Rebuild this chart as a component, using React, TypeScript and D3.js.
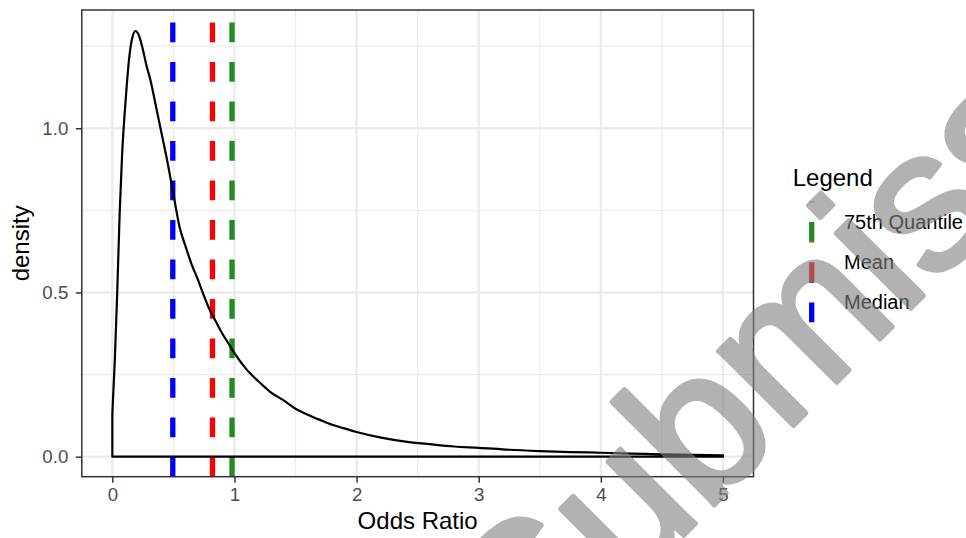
import React, { useEffect, useRef } from "react";
import * as d3 from "d3";

// density curve
const oddsRatio = [
  0, 0.02, 0.04, 0.06, 0.08, 0.1, 0.12, 0.14, 0.16, 0.19, 0.22, 0.25, 0.28,
  0.31, 0.35, 0.4, 0.45, 0.5, 0.55, 0.6, 0.65, 0.7, 0.75, 0.8, 0.85, 0.9,
  0.95, 1.0, 1.1, 1.2, 1.3, 1.4, 1.5, 1.6, 1.7, 1.8, 1.9, 2.0, 2.2, 2.4, 2.6,
  2.8, 3.0, 3.25, 3.5, 3.75, 4.0, 4.25, 4.5, 4.75, 5.0,
];
const density = [
  0.13, 0.29, 0.5, 0.74, 0.92, 1.04, 1.14, 1.22, 1.27, 1.296, 1.28, 1.24,
  1.19, 1.15, 1.08, 0.99, 0.9, 0.8, 0.7, 0.64, 0.585, 0.54, 0.49, 0.445, 0.41,
  0.375, 0.345, 0.315, 0.265, 0.228, 0.195, 0.172, 0.146, 0.128, 0.112, 0.097,
  0.086, 0.075, 0.058, 0.046, 0.038, 0.031, 0.027, 0.021, 0.017, 0.014, 0.012,
  0.0095, 0.007, 0.0055, 0.004,
];

const xTicks = [0, 1, 2, 3, 4, 5];
const xMinor = [0.5, 1.5, 2.5, 3.5, 4.5];
const yTicks = [0, 0.5, 1.0];
const yMinor = [0.25, 0.75, 1.25];

const statNames = ["75th Quantile", "Mean", "Median"];
const statValues = [0.98, 0.82, 0.495];
const statColors = ["#228B22", "#FF0000", "#0000FF"];

const FONT = "'Liberation Sans', Arial, Helvetica, sans-serif";

export default function App() {
  const svgRef = useRef<SVGSVGElement>(null);

  useEffect(() => {
    document.body.style.margin = "0";
    const W = 966;
    const H = 538;
    const margin = { top: 10, right: 212.5, bottom: 61.3, left: 81.8 };

    const svg = d3.select(svgRef.current);
    svg.selectAll("*").remove();
    svg.style("font-family", FONT);

    const x = d3
      .scaleLinear()
      .domain([-0.25, 5.25])
      .range([margin.left, W - margin.right]);
    const y = d3
      .scaleLinear()
      .domain([-0.061, 1.36])
      .range([H - margin.bottom, margin.top]);

    const [x0, x1] = x.range();
    const [yb, yt] = y.range();

    svg
      .append("rect")
      .attr("width", W)
      .attr("height", H)
      .attr("fill", "white");

    // grid
    const grid = svg.append("g");
    const vGrid = (vals: number[], w: number) =>
      grid
        .append("g")
        .selectAll("line")
        .data(vals)
        .enter()
        .append("line")
        .attr("x1", (d) => x(d))
        .attr("x2", (d) => x(d))
        .attr("y1", yb)
        .attr("y2", yt)
        .attr("stroke", "#EBEBEB")
        .attr("stroke-width", w);
    const hGrid = (vals: number[], w: number) =>
      grid
        .append("g")
        .selectAll("line")
        .data(vals)
        .enter()
        .append("line")
        .attr("x1", x0)
        .attr("x2", x1)
        .attr("y1", (d) => y(d))
        .attr("y2", (d) => y(d))
        .attr("stroke", "#EBEBEB")
        .attr("stroke-width", w);
    vGrid(xMinor, 1.2);
    hGrid(yMinor, 1.2);
    vGrid(xTicks, 2.4);
    hGrid(yTicks, 2.4);

    // vertical stat lines
    svg
      .append("g")
      .selectAll("line")
      .data(statValues)
      .enter()
      .append("line")
      .attr("x1", (d) => x(d))
      .attr("x2", (d) => x(d))
      .attr("y1", yb)
      .attr("y2", yt)
      .attr("stroke", (d, i) => statColors[i])
      .attr("stroke-width", 5.3)
      .attr("stroke-dasharray", "19.75 19.75");

    // density outline
    const pts: [number, number][] = oddsRatio.map((v, i) => [v, density[i]]);
    const area = d3
      .area<[number, number]>()
      .x((d) => x(d[0]))
      .y0(y(0))
      .y1((d) => y(d[1]))
      .curve(d3.curveMonotoneX);
    svg
      .append("path")
      .attr("d", area(pts))
      .attr("fill", "none")
      .attr("stroke", "black")
      .attr("stroke-width", 2.2)
      .attr("stroke-linejoin", "round");

    // panel border
    svg
      .append("rect")
      .attr("x", x0)
      .attr("y", yt)
      .attr("width", x1 - x0)
      .attr("height", yb - yt)
      .attr("fill", "none")
      .attr("stroke", "#333333")
      .attr("stroke-width", 1.5);

    // axes
    const xAxis = svg
      .append("g")
      .attr("transform", `translate(0,${yb})`)
      .call(
        d3
          .axisBottom(x)
          .tickValues(xTicks)
          .tickFormat(d3.format("d"))
          .tickSize(6)
          .tickPadding(5)
      );
    const yAxis = svg
      .append("g")
      .attr("transform", `translate(${x0},0)`)
      .call(
        d3
          .axisLeft(y)
          .tickValues(yTicks)
          .tickFormat(d3.format(".1f"))
          .tickSize(6)
          .tickPadding(7.5)
      );
    [xAxis, yAxis].forEach((g) => {
      g.select(".domain").remove();
      g.selectAll("line").attr("stroke", "#333333").attr("stroke-width", 1.5);
      g.selectAll("text")
        .attr("fill", "#4D4D4D")
        .style("font-size", "18.7px")
        .style("font-family", FONT);
    });

    svg
      .append("text")
      .attr("x", (x0 + x1) / 2)
      .attr("y", 529)
      .attr("text-anchor", "middle")
      .attr("font-size", 24)
      .text("Odds Ratio");
    svg
      .append("text")
      .attr("transform", `translate(29,${(yb + yt) / 2}) rotate(-90)`)
      .attr("text-anchor", "middle")
      .attr("font-size", 24)
      .text("density");

    // legend
    const legend = svg.append("g");
    legend
      .append("text")
      .attr("x", 792.7)
      .attr("y", 186)
      .attr("font-size", 24)
      .text("Legend");
    const keyTop = 201.5;
    const keyH = 40.25;
    statNames.forEach((name, i) => {
      const top = keyTop + i * keyH;
      legend
        .append("line")
        .attr("x1", 811.7)
        .attr("x2", 811.7)
        .attr("y1", top + keyH)
        .attr("y2", top)
        .attr("stroke", statColors[i])
        .attr("stroke-width", 5.3)
        .attr("stroke-dasharray", "19.75 19.75");
      legend
        .append("text")
        .attr("x", 844)
        .attr("y", top + keyH / 2 + 7)
        .attr("font-size", 20)
        .text(name);
    });

    // watermark (group opacity so the thickening stroke doesn't double up)
    svg
      .append("g")
      .attr("opacity", 0.6)
      .style("pointer-events", "none")
      .append("text")
      .attr("transform", "translate(532,687) rotate(-45)")
      .attr("font-size", 200)
      .attr("fill", "#808080")
      .attr("stroke", "#808080")
      .attr("stroke-width", 5)
      .attr("stroke-linejoin", "round")
      .text("Submission");
  }, []);

  return <svg ref={svgRef} width={966} height={538} style={{ display: "block" }} />;
}
